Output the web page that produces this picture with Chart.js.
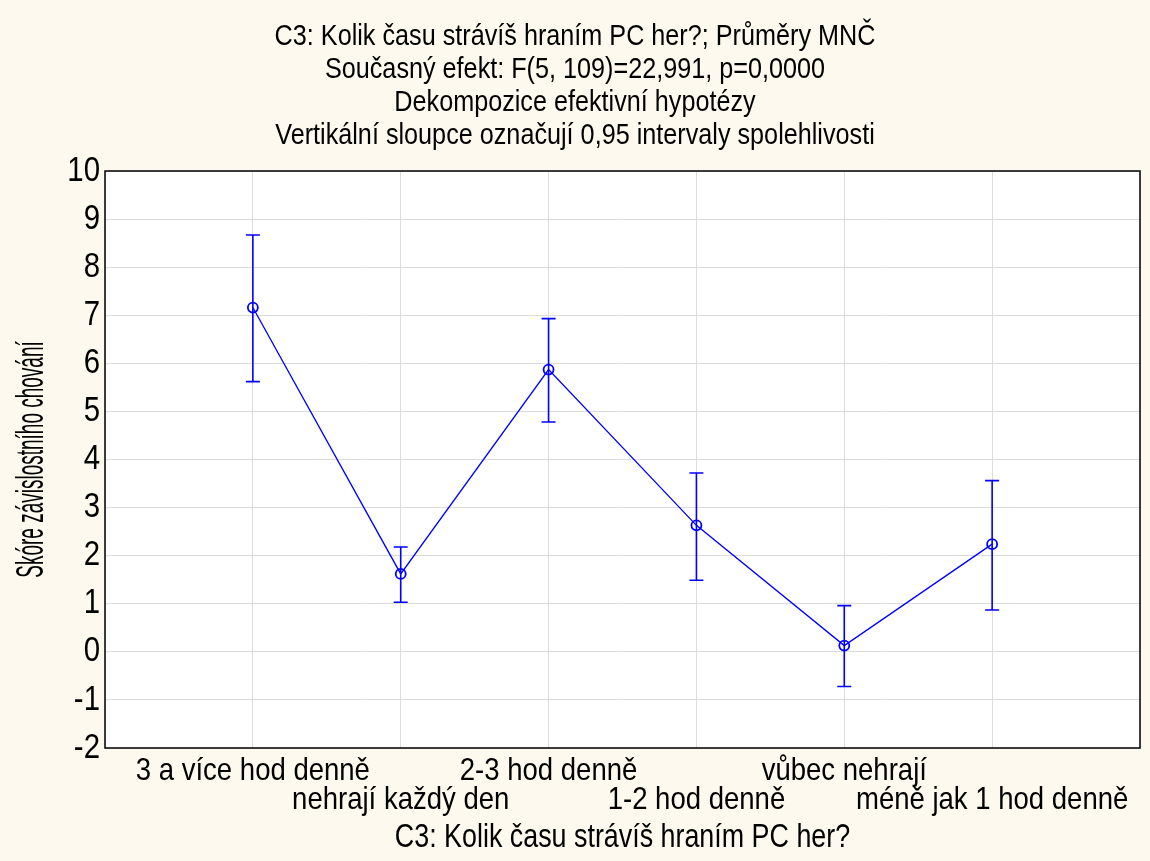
<!DOCTYPE html>
<html>
<head>
<meta charset="utf-8">
<script src="https://cdn.jsdelivr.net/npm/chart.js@4.4.1/dist/chart.umd.min.js"></script>
<style>
  html, body { margin: 0; padding: 0; background: #fdf9ee; }
  #wrap { width: 1150px; height: 861px; position: relative; }
</style>
</head>
<body>
<div id="wrap"><canvas id="c" width="1150" height="861"></canvas></div>
<script>
// Categories of the factor "C3" and the group means with 95 % confidence limits
const categories = [
  '3 a více hod denně',
  'nehrají každý den',
  '2-3 hod denně',
  '1-2 hod denně',
  'vůbec nehrají',
  'méně jak 1 hod denně'
];
const means = [7.16, 1.62, 5.87, 2.63, 0.13, 2.24];
const upper = [8.67, 2.18, 6.93, 3.72, 0.96, 3.56];
const lower = [5.62, 1.03, 4.78, 1.49, -0.72, 0.87];
const yTicks = [-2, -1, 0, 1, 2, 3, 4, 5, 6, 7, 8, 9, 10];

const titleLines = [
  'C3: Kolik času strávíš hraním PC her?; Průměry MNČ',
  'Současný efekt: F(5, 109)=22,991, p=0,0000',
  'Dekompozice efektivní hypotézy',
  'Vertikální sloupce označují 0,95 intervaly spolehlivosti'
];
const xTitle = 'C3: Kolik času strávíš hraním PC her?';
const yTitle = 'Skóre závislostního chování';

const BLUE = '#0000ff';
const FONT = '"Liberation Sans", Arial, sans-serif';

// Each text role gets its own font size; text set at that size is
// condensed horizontally by the given factor (Arial-like, STATISTICA style).
const SIZE = { title: 30, xTicks: 32, xTitle: 34, yTicks: 35, yTitle: 38 };
const SQUEEZE = { 30: 0.84, 32: 0.86, 34: 0.79, 35: 0.84, 38: 0.5 };

const canvas = document.getElementById('c');
const ctx2d = canvas.getContext('2d');
const baseFill = ctx2d.fillText.bind(ctx2d);
const baseMeasure = ctx2d.measureText.bind(ctx2d);
function squeezeFor(c) {
  const m = /(\d+(?:\.\d+)?)px/.exec(c.font);
  return m ? (SQUEEZE[Math.round(+m[1])] || 1) : 1;
}
ctx2d.measureText = function (t) {
  const r = baseMeasure(t);
  const k = squeezeFor(ctx2d);
  if (k === 1) return r;
  return {
    width: r.width * k,
    actualBoundingBoxAscent: r.actualBoundingBoxAscent,
    actualBoundingBoxDescent: r.actualBoundingBoxDescent,
    actualBoundingBoxLeft: r.actualBoundingBoxLeft * k,
    actualBoundingBoxRight: r.actualBoundingBoxRight * k
  };
};
ctx2d.fillText = function (t, x, y, maxWidth) {
  const k = squeezeFor(ctx2d);
  if (k === 1) return maxWidth === undefined ? baseFill(t, x, y) : baseFill(t, x, y, maxWidth);
  ctx2d.save();
  ctx2d.translate(x, y);
  ctx2d.scale(k, 1);
  baseFill(t, 0, 0);
  ctx2d.restore();
};

// white plot area and full black frame
const frame = {
  id: 'frame',
  beforeDraw(chart) {
    const a = chart.chartArea, ctx = chart.ctx;
    ctx.save();
    ctx.fillStyle = '#ffffff';
    ctx.fillRect(a.left, a.top, a.right - a.left, a.bottom - a.top);
    ctx.restore();
  },
  afterDraw(chart) {
    const a = chart.chartArea, ctx = chart.ctx;
    ctx.save();
    ctx.strokeStyle = '#000';
    ctx.lineWidth = 1.5;
    ctx.strokeRect(a.left, a.top, a.right - a.left, a.bottom - a.top);
    ctx.restore();
  }
};

// vertical confidence-interval whiskers
const whiskers = {
  id: 'whiskers',
  afterDatasetsDraw(chart) {
    const xs = chart.scales.x, ys = chart.scales.y, ctx = chart.ctx;
    ctx.save();
    ctx.strokeStyle = BLUE;
    ctx.lineWidth = 1.6;
    const cap = 7;
    for (let i = 0; i < means.length; i++) {
      const x = xs.getPixelForValue(i + 1);
      const yt = ys.getPixelForValue(upper[i]);
      const yb = ys.getPixelForValue(lower[i]);
      ctx.beginPath();
      ctx.moveTo(x, yt); ctx.lineTo(x, yb);
      ctx.moveTo(x - cap, yt); ctx.lineTo(x + cap, yt);
      ctx.moveTo(x - cap, yb); ctx.lineTo(x + cap, yb);
      ctx.stroke();
    }
    ctx.restore();
  }
};

new Chart(canvas, {
  type: 'line',
  data: {
    datasets: [{
      data: means.map((m, i) => ({ x: i + 1, y: m })),
      borderColor: BLUE,
      borderWidth: 1.3,
      pointStyle: 'circle',
      pointRadius: 5,
      pointBorderWidth: 1.8,
      pointBorderColor: BLUE,
      pointBackgroundColor: 'rgba(0,0,0,0)',
      tension: 0
    }]
  },
  options: {
    responsive: false,
    animation: false,
    layout: { padding: { left: 10, right: 10, top: 0, bottom: 0 } },
    plugins: {
      legend: { display: false },
      tooltip: { enabled: false },
      title: {
        display: true,
        text: titleLines,
        color: '#000',
        font: { family: FONT, size: SIZE.title, weight: 'normal', lineHeight: 33 / 30 },
        padding: { top: 20, bottom: 19 }
      }
    },
    scales: {
      x: {
        type: 'linear',
        min: 0,
        max: 7,
        afterBuildTicks(scale) {
          scale.ticks = [0, 1, 2, 3, 4, 5, 6, 7].map(v => ({ value: v }));
        },
        afterFit(scale) { scale.height = 113; },
        grid: { color: '#dcdcdc', lineWidth: 1, drawTicks: false },
        border: { display: false },
        ticks: {
          autoSkip: false,
          maxRotation: 0,
          minRotation: 0,
          padding: 9,
          color: '#000',
          font: { family: FONT, size: SIZE.xTicks, lineHeight: 0.9 },
          callback(v) {
            const i = v - 1;
            if (i < 0 || i >= categories.length) return '';
            return i % 2 === 0 ? [categories[i]] : ['', categories[i]];
          }
        },
        title: {
          display: true,
          text: xTitle,
          color: '#000',
          font: { family: FONT, size: SIZE.xTitle },
          padding: { top: 0, bottom: 3 }
        }
      },
      y: {
        min: -2,
        max: 10,
        afterBuildTicks(scale) {
          scale.ticks = yTicks.map(v => ({ value: v }));
        },
        afterFit(scale) { scale.width = 95; },
        grid: { color: '#dcdcdc', lineWidth: 1, drawTicks: false },
        border: { display: false },
        ticks: {
          padding: 5,
          color: '#000',
          font: { family: FONT, size: SIZE.yTicks }
        },
        title: {
          display: true,
          text: yTitle,
          color: '#000',
          font: { family: FONT, size: SIZE.yTitle },
          padding: { top: 0, bottom: 8 }
        }
      }
    }
  },
  plugins: [frame, whiskers]
});
</script>
</body>
</html>
